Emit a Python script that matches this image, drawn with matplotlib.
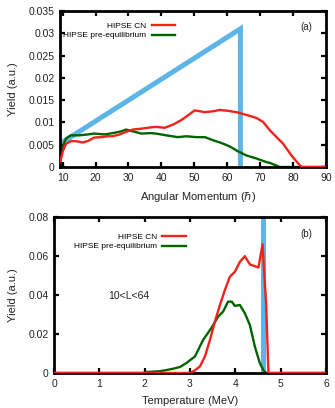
import matplotlib
matplotlib.use("Agg")
import matplotlib.pyplot as plt
from matplotlib.ticker import FixedLocator

plt.rcParams['font.family'] = ['Liberation Sans', 'DejaVu Sans']

# ---------- panel (a): yield vs angular momentum ----------
L_cn = [9.3, 10, 11, 12.5, 14, 16.1, 17.6, 19.6, 21.7, 23.7, 25.2, 27.3, 29.3, 31.3,
        33.9, 36.9, 38.4, 41, 43.5, 46, 48.1, 50.1, 53.2, 55.7, 57.7, 60.3, 62.8,
        65.8, 68.9, 70.9, 73, 77, 79.5, 81.6, 82.6, 90]
Y_cn = [0.0011, 0.0034, 0.0052, 0.0058, 0.0058, 0.0055, 0.0058, 0.0066, 0.0067, 0.0069,
        0.0069, 0.0073, 0.0079, 0.0084, 0.0086, 0.0089, 0.009, 0.0088, 0.0095, 0.0105,
        0.0116, 0.0127, 0.0123, 0.0125, 0.0128, 0.0126, 0.0123, 0.0117, 0.011, 0.0101,
        0.0082, 0.0052, 0.0026, 0.00075, 0.0, 0.0]

L_pe = [9.3, 10, 11, 12.5, 15, 17.6, 19.6, 22.7, 25.2, 27.8, 29.3, 31.3, 33.9, 36.9,
        38.4, 41.5, 45, 47.6, 50.6, 53.2, 55.7, 58.2, 60.8, 63.3, 65.8, 68.9, 71.9,
        73, 75, 76, 90]
Y_pe = [0.0022, 0.0045, 0.0064, 0.0071, 0.0071, 0.0073, 0.0075, 0.0073, 0.0076, 0.008,
        0.0084, 0.008, 0.0075, 0.0076, 0.0075, 0.0071, 0.0067, 0.0069, 0.0067, 0.0067,
        0.006, 0.0054, 0.0046, 0.0035, 0.0026, 0.0019, 0.0011, 0.0009, 0.0003, 0.0, 0.0]

L_tri = [9.2, 64, 64]
Y_tri = [0.0052, 0.031, 0.0]

# ---------- panel (b): yield vs temperature ----------
T_cn = [0, 3.0, 3.11, 3.22, 3.33, 3.44, 3.55, 3.66, 3.77, 3.88, 3.99, 4.1, 4.21, 4.32,
        4.51, 4.6, 4.68, 4.73, 6]
Yt_cn = [0, 0, 0.0014, 0.0034, 0.0085, 0.017, 0.0264, 0.0349, 0.0426, 0.0494, 0.0519,
         0.057, 0.0599, 0.0557, 0.0541, 0.066, 0.035, 0.0, 0.0]

T_pe = [0, 1.95, 2.04, 2.33, 2.48, 2.63, 2.78, 2.92, 3.11, 3.29, 3.47, 3.62, 3.73, 3.84,
        3.92, 3.99, 4.1, 4.21, 4.32, 4.43, 4.54, 4.62, 4.68, 6]
Yt_pe = [0, 0, 0.0005, 0.0009, 0.0015, 0.0022, 0.0031, 0.0051, 0.0085, 0.017, 0.023,
         0.0289, 0.0315, 0.0366, 0.0366, 0.0344, 0.0349, 0.0306, 0.0247, 0.0136, 0.0051,
         0.0014, 0.0, 0.0]

T_lim = [4.62, 4.62]
Y_lim = [0.0, 0.09]

red = '#f0221c'
green = '#006400'
blue = '#5bb5e6'


def style_axes(ax):
    for s in ax.spines.values():
        s.set_linewidth(2.0)
        s.set_color('black')
    ax.tick_params(direction='in', which='both', top=True, right=True,
                   length=3.5, width=1.6, labelsize=7.5, pad=4, labelcolor='#222222')


fig = plt.figure(figsize=(3.35, 4.08), dpi=100)

# top panel
ax1 = fig.add_axes([60/335, 1-167/408, 266/335, 156/408])
ax1.plot(L_tri, Y_tri, color=blue, lw=3.6, solid_joinstyle='miter', zorder=1)
ax1.plot(L_cn, Y_cn, color=red, lw=1.7, label='HIPSE CN', zorder=3)
ax1.plot(L_pe, Y_pe, color=green, lw=1.7, label='HIPSE pre-equilibrium', zorder=2)
ax1.set_xlim(9.2, 90)
ax1.set_ylim(0, 0.035)
ax1.xaxis.set_major_locator(FixedLocator(list(range(10, 91, 10))))
yt1 = [0, 0.005, 0.01, 0.015, 0.02, 0.025, 0.03, 0.035]
ax1.set_yticks(yt1)
ax1.set_yticklabels(['0', '0.005', '0.01', '0.015', '0.02', '0.025', '0.03', '0.035'])
style_axes(ax1)
ax1.set_xlabel('Angular Momentum ($\\hbar$)', fontsize=8, color='#222222')
ax1.set_ylabel('Yield (a.u.)', fontsize=8, color='#222222')
ax1.yaxis.set_label_coords(-0.158, 0.5)
ax1.xaxis.set_label_coords(0.52, -0.15)
ax1.legend(loc='upper right', bbox_to_anchor=(0.432, 0.926), frameon=False,
           markerfirst=False, fontsize=6, handlelength=2.8, handletextpad=0.7,
           labelspacing=0.15, borderpad=0, borderaxespad=0)
ax1.text(0.925, 0.897, '(a)', transform=ax1.transAxes, fontsize=7,
         ha='center', va='center', color='#222222')

# bottom panel
ax2 = fig.add_axes([54/335, 1-373/408, 272/335, 156/408])
ax2.plot(T_lim, Y_lim, color=blue, lw=3.6, zorder=1)
ax2.plot(T_cn, Yt_cn, color=red, lw=1.7, label='HIPSE CN', zorder=3)
ax2.plot(T_pe, Yt_pe, color=green, lw=1.7, label='HIPSE pre-equilibrium', zorder=2)
ax2.set_xlim(0, 6)
ax2.set_ylim(0, 0.08)
ax2.set_xticks(range(0, 7))
ax2.set_yticks([0, 0.02, 0.04, 0.06, 0.08])
ax2.set_yticklabels(['0', '0.02', '0.04', '0.06', '0.08'])
style_axes(ax2)
ax2.set_xlabel('Temperature (MeV)', fontsize=8, color='#222222')
ax2.set_ylabel('Yield (a.u.)', fontsize=8, color='#222222')
ax2.yaxis.set_label_coords(-0.131, 0.5)
ax2.xaxis.set_label_coords(0.5, -0.15)
ax2.legend(loc='upper right', bbox_to_anchor=(0.485, 0.894), frameon=False,
           markerfirst=False, fontsize=6, handlelength=2.9, handletextpad=0.5,
           labelspacing=0.15, borderpad=0, borderaxespad=0)
ax2.text(0.926, 0.891, '(b)', transform=ax2.transAxes, fontsize=7,
         ha='center', va='center', color='#222222')
ax2.text(0.199, 0.494, '10<L<64', transform=ax2.transAxes, fontsize=7.5,
         ha='left', va='center', color='#222222')

fig.savefig('out.png', dpi=100)
